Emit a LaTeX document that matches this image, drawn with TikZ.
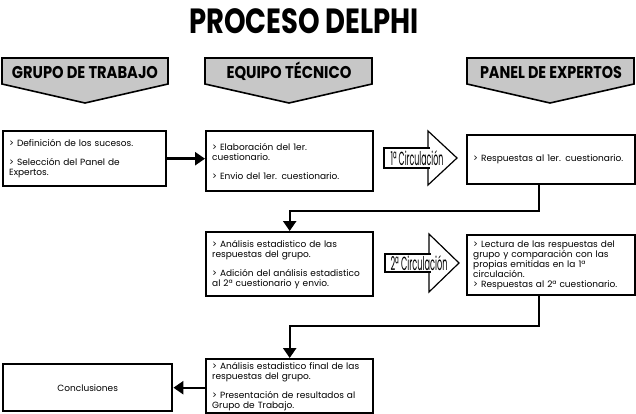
\documentclass[tikz,border=0pt]{standalone}
\usepackage{fontspec}
\setmainfont{Poppins}
\usetikzlibrary{arrows.meta}

\newcommand{\jline}[1]{\makebox[156pt][s]{#1}}

\begin{document}
\begin{tikzpicture}[x=1pt,y=-1pt,
		caja/.style={draw,line width=2.4pt,fill=white,anchor=north west,align=left,
			inner xsep=6pt,inner ysep=2pt,font=\fontsize{9}{10}\selectfont},
		banda/.style={draw,line width=1.6pt,fill=black!22},
		rotulo/.style={anchor=base,font=\fontsize{17}{17}\bfseries},
		enlace/.style={line width=2.4pt,-{Triangle[length=10pt,width=13pt]}},
		punta/.style={fill=white,line width=1.2pt},
		cuerpo/.style={fill=white,line width=2.4pt}]
		\useasboundingbox[fill=white] (0,0) rectangle (636,414);
		%
		\node[anchor=base,font=\fontsize{35}{35}\bfseries] (titulo) at (304,34) {\resizebox{230pt}{\height}{PROCESO DELPHI}};
		%
		\filldraw[banda] (2,58) -- (168,58) -- (168,84) -- (85,103) -- (2,84) -- cycle;
		\node[rotulo] (grupo) at (85,79) {\resizebox{146pt}{\height}{GRUPO DE TRABAJO}};
		\filldraw[banda] (205,58) -- (372,58) -- (372,84) -- (289,103) -- (205,84) -- cycle;
		\node[rotulo] (equipo) at (289,79) {\resizebox{125pt}{\height}{EQUIPO TÉCNICO}};
		\filldraw[banda] (467,58) -- (634,58) -- (634,84) -- (550,103) -- (467,84) -- cycle;
		\node[rotulo] (panel) at (551,79) {\resizebox{142pt}{\height}{PANEL DE EXPERTOS}};
		%
		\node[caja,text width=151pt,minimum height=55pt] (definicion) at (2,130)
			{> Definición de los sucesos.\\[9pt] > Selección del Panel de\\ Expertos.};
		\node[caja,text width=155pt,minimum height=60pt] (elaboracion) at (205,130)
			{> Elaboración del 1er.\\ cuestionario.\\[9pt] > Envio del 1er. cuestionario.};
		\node[caja,text width=156pt,minimum height=49pt] (respuestas) at (466,134)
			{> Respuestas al 1er. cuestionario.};
		\node[caja,text width=155pt,minimum height=64pt] (analisis) at (205,231)
			{> Análisis estadistico de las\\ respuestas del grupo.\\[9pt] > Adición del análisis estadistico\\ al 2ª cuestionario y envio.};
		\node[caja,text width=156pt,minimum height=60pt] (lectura) at (466,234)
			{\jline{> Lectura de las respuestas del}\\ \jline{grupo y comparación con las}\\ \jline{propias emitidas en la 1ª}\\ circulación.\\ > Respuestas al 2ª cuestionario.};
		\node[caja,text width=155pt,minimum height=54pt] (final) at (205,358)
			{> Análisis estadistico final de las\\ respuestas del grupo.\\[9pt] > Presentación de resultados al\\ Grupo de Trabajo.};
		\node[caja,text width=157pt,minimum height=47pt,align=center] (conclusiones) at (2,363)
			{Conclusiones};
		%
		\filldraw[punta] (428,148) -- (428,131) -- (457,158) -- (428,185) -- (428,168);
		\filldraw[cuerpo] (430,148) -- (384,148) -- (384,168) -- (430,168);
		\node[font=\fontsize{19}{19}\selectfont] (circ1) at (417,158) {\resizebox{53pt}{\height}{1ª Circulación}};
		%
		\filldraw[punta] (429,254) -- (429,234) -- (459,263) -- (429,292) -- (429,272);
		\filldraw[cuerpo] (431,254) -- (385,254) -- (385,272) -- (431,272);
		\node[font=\fontsize{19}{19}\selectfont] (circ2) at (419,263) {\resizebox{57pt}{\height}{2ª Circulación}};
		%
		\draw[enlace] (definicion.east) -- (definicion.east -| elaboracion.west);
		\draw[enlace] ([xshift=-12pt]respuestas.south) |- ([yshift=20pt]analisis.north) -- (analisis.north);
		\draw[enlace] ([xshift=-12pt]lectura.south) |- ([yshift=32pt]final.north) -- (final.north);
		\draw[enlace] (final.west |- conclusiones.east) -- (conclusiones.east);
	\end{tikzpicture}
\end{document}
